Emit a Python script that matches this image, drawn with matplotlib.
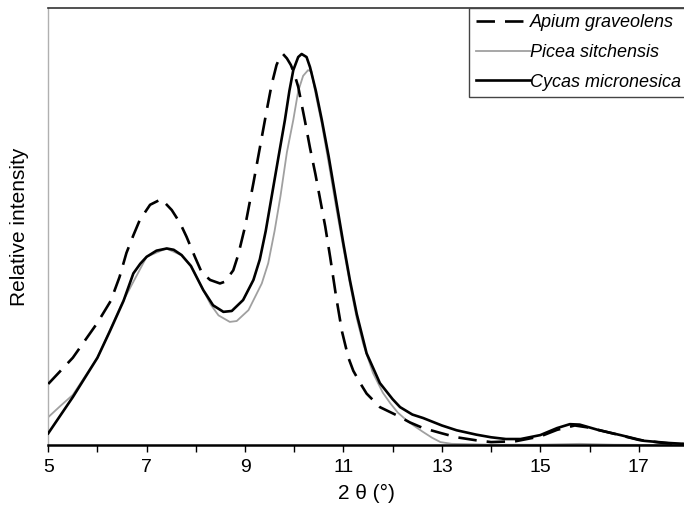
import matplotlib.pyplot as plt
from matplotlib.ticker import MultipleLocator

plt.rcParams['font.family'] = ['Liberation Sans', 'DejaVu Sans']

# Apium graveolens (dashed)
apium_x = [5.0, 5.5, 6.0, 6.27, 6.45, 6.59, 6.73, 6.86, 7.07, 7.3, 7.51, 7.68, 7.81,
           7.98, 8.12, 8.29, 8.49, 8.59, 8.76, 8.86, 9.0, 9.17, 9.3, 9.44, 9.54, 9.64,
           9.71, 9.77, 9.85, 9.93, 10.0, 10.08, 10.15, 10.22, 10.32, 10.43, 10.53, 10.63,
           10.73, 10.85, 10.97, 11.1, 11.2, 11.35, 11.47, 11.74, 12.07, 12.35, 12.62,
           13.0, 13.3, 13.7, 14.0, 14.5, 15.0, 15.34, 15.7, 16.0, 16.5, 17.0, 17.5, 17.92]
apium_y = [0.14, 0.20, 0.28, 0.33, 0.385, 0.44, 0.48, 0.515, 0.55, 0.563, 0.538, 0.508, 0.477,
           0.431, 0.395, 0.378, 0.37, 0.374, 0.40, 0.435, 0.50, 0.60, 0.68, 0.766, 0.825, 0.87,
           0.888, 0.895, 0.885, 0.87, 0.85, 0.82, 0.78, 0.74, 0.68, 0.62, 0.56, 0.50,
           0.43, 0.34, 0.26, 0.20, 0.17, 0.14, 0.118, 0.087, 0.069, 0.052, 0.039,
           0.027, 0.018, 0.011, 0.007, 0.009, 0.02, 0.035, 0.045, 0.04, 0.026, 0.012, 0.005, 0.002]

# Picea sitchensis (grey)
picea_x = [5.0, 5.25, 5.5, 6.0, 6.5, 7.0, 7.4, 7.7, 7.9, 8.15, 8.3, 8.46, 8.69, 8.83,
           9.07, 9.34, 9.47, 9.6, 9.72, 9.85, 9.98, 10.08, 10.18, 10.28, 10.35, 10.44,
           10.56, 10.7, 10.85, 11.0, 11.13, 11.27, 11.4, 11.6, 11.8, 11.95, 12.1, 12.28,
           12.45, 12.62, 12.8, 12.97, 13.2, 14.0, 15.0, 15.8, 16.5, 17.92]
picea_y = [0.064, 0.09, 0.115, 0.20, 0.325, 0.431, 0.45, 0.435, 0.41, 0.355, 0.322, 0.297, 0.282, 0.284,
           0.309, 0.37, 0.416, 0.49, 0.57, 0.67, 0.744, 0.81, 0.845, 0.858, 0.855, 0.80,
           0.735, 0.645, 0.545, 0.45, 0.37, 0.29, 0.232, 0.165, 0.12, 0.096, 0.075, 0.057,
           0.043, 0.03, 0.017, 0.007, 0.003, 0.001, 0.001, 0.003, 0.001, 0.0]

# Cycas micronesica (black)
cycas_x = [5.0, 5.5, 6.0, 6.25, 6.53, 6.73, 6.87, 7.0, 7.2, 7.41, 7.55, 7.71, 7.9, 8.15,
           8.35, 8.56, 8.73, 8.96, 9.17, 9.3, 9.42, 9.55, 9.68, 9.81, 9.9, 9.98, 10.08,
           10.15, 10.25, 10.32, 10.44, 10.56, 10.7, 10.85, 11.0, 11.13, 11.27, 11.47,
           11.74, 12.0, 12.15, 12.4, 12.62, 13.0, 13.3, 13.7, 14.0, 14.3, 14.6, 15.0,
           15.34, 15.6, 15.8, 16.2, 16.63, 17.1, 17.6, 17.92]
cycas_y = [0.027, 0.11, 0.20, 0.26, 0.33, 0.393, 0.415, 0.431, 0.445, 0.45, 0.447, 0.435, 0.41, 0.355,
           0.32, 0.305, 0.307, 0.332, 0.378, 0.425, 0.49, 0.575, 0.66, 0.744, 0.81, 0.858, 0.888,
           0.895, 0.888, 0.865, 0.81, 0.744, 0.66, 0.56, 0.46, 0.378, 0.30, 0.21,
           0.142, 0.105, 0.087, 0.07, 0.062, 0.045, 0.034, 0.024, 0.018, 0.014, 0.014, 0.023,
           0.039, 0.048, 0.047, 0.034, 0.023, 0.01, 0.005, 0.003]

xticks = [5, 7, 9, 11, 13, 15, 17]

fig = plt.figure(figsize=(6.84, 5.07), dpi=100)
ax = fig.add_axes([0.0705, 0.122, 0.9295, 0.862])

ax.plot(picea_x, picea_y, color='#a0a0a0', lw=1.3, label='Picea sitchensis', zorder=2)
ax.plot(cycas_x, cycas_y, color='black', lw=1.9, label='Cycas micronesica', zorder=3,
        solid_joinstyle='round')
ax.plot(apium_x, apium_y, color='black', lw=1.9, dashes=(7, 3.8), label='Apium graveolens',
        zorder=4, dash_joinstyle='round')

ax.set_xlim(5, 17.92)
ax.set_ylim(0, 1)
ax.set_xticks(xticks)
ax.xaxis.set_minor_locator(MultipleLocator(1))
ax.tick_params(axis='x', which='both', direction='out', length=5, width=1, labelsize=14, pad=5)
ax.set_yticks([])

ax.spines['right'].set_visible(False)
ax.spines['left'].set_color('#b0b0b0')
ax.spines['left'].set_linewidth(1)
ax.spines['top'].set_color('#333333')
ax.spines['top'].set_linewidth(1.2)
ax.spines['bottom'].set_linewidth(1.8)

ax.set_xlabel('2 θ (°)', fontsize=15, labelpad=6)
ax.set_ylabel('Relative intensity', fontsize=15, labelpad=14)

handles, labels = ax.get_legend_handles_labels()
order = [2, 0, 1]
leg = ax.legend([handles[i] for i in order], [labels[i] for i in order],
                loc='upper right', bbox_to_anchor=(1.005, 1.0),
                prop={'style': 'italic', 'size': 13}, handlelength=3.0,
                handletextpad=0.0, labelspacing=0.7, borderpad=0.35,
                fancybox=False, framealpha=1, edgecolor='#444444', borderaxespad=0)
leg.get_frame().set_linewidth(1.0)

fig.savefig('out.png', dpi=100)
